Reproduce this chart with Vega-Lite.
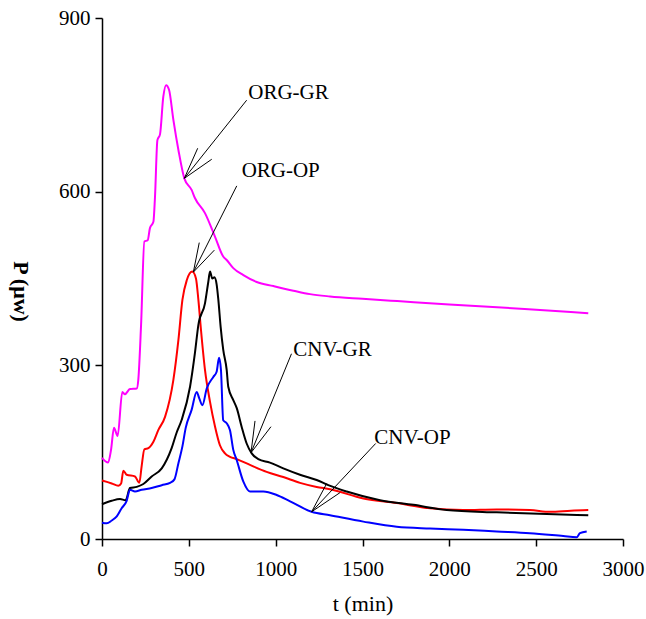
{
  "$schema": "https://vega.github.io/schema/vega-lite/v6.json",
  "autosize": {"type": "none"},
  "width": 521,
  "height": 521,
  "padding": {"left": 102, "top": 18, "right": 23, "bottom": 80},
  "background": "white",
  "config": {
    "view": {"stroke": null},
    "font": "Liberation Serif",
    "text": {"font": "Liberation Serif"},
    "axis": {
      "grid": false,
      "labelFlush": false,
      "labelOverlap": false,
      "domainColor": "black",
      "domainWidth": 1.5,
      "tickColor": "black",
      "tickWidth": 1.5,
      "tickSize": 7,
      "labelFont": "Liberation Serif",
      "labelFontSize": 21,
      "labelColor": "black",
      "titleFont": "Liberation Serif",
      "titleColor": "black",
      "titleFontWeight": "normal"
    }
  },
  "datasets": {
    "curves": [
      {"s": "ORG-GR", "t": 0, "P": 140}, {"s": "ORG-GR", "t": 35, "P": 132}, {"s": "ORG-GR", "t": 52, "P": 154}, {"s": "ORG-GR", "t": 69, "P": 192}, {"s": "ORG-GR", "t": 90, "P": 178}, {"s": "ORG-GR", "t": 117, "P": 254}, {"s": "ORG-GR", "t": 132, "P": 250}, {"s": "ORG-GR", "t": 161, "P": 259}, {"s": "ORG-GR", "t": 200, "P": 260}, {"s": "ORG-GR", "t": 209, "P": 275}, {"s": "ORG-GR", "t": 225, "P": 370}, {"s": "ORG-GR", "t": 244, "P": 514}, {"s": "ORG-GR", "t": 263, "P": 516}, {"s": "ORG-GR", "t": 276, "P": 537}, {"s": "ORG-GR", "t": 296, "P": 548}, {"s": "ORG-GR", "t": 305, "P": 590}, {"s": "ORG-GR", "t": 319, "P": 689}, {"s": "ORG-GR", "t": 334, "P": 699}, {"s": "ORG-GR", "t": 353, "P": 764}, {"s": "ORG-GR", "t": 369, "P": 784}, {"s": "ORG-GR", "t": 386, "P": 776}, {"s": "ORG-GR", "t": 411, "P": 724}, {"s": "ORG-GR", "t": 440, "P": 672}, {"s": "ORG-GR", "t": 474, "P": 623}, {"s": "ORG-GR", "t": 516, "P": 603}, {"s": "ORG-GR", "t": 535, "P": 589}, {"s": "ORG-GR", "t": 593, "P": 563}, {"s": "ORG-GR", "t": 651, "P": 522}, {"s": "ORG-GR", "t": 698, "P": 488}, {"s": "ORG-GR", "t": 718, "P": 482}, {"s": "ORG-GR", "t": 756, "P": 468}, {"s": "ORG-GR", "t": 814, "P": 456}, {"s": "ORG-GR", "t": 891, "P": 444}, {"s": "ORG-GR", "t": 987, "P": 437}, {"s": "ORG-GR", "t": 1102, "P": 429}, {"s": "ORG-GR", "t": 1198, "P": 423}, {"s": "ORG-GR", "t": 1313, "P": 419}, {"s": "ORG-GR", "t": 1500, "P": 415}, {"s": "ORG-GR", "t": 1700, "P": 411}, {"s": "ORG-GR", "t": 2000, "P": 405}, {"s": "ORG-GR", "t": 2300, "P": 400}, {"s": "ORG-GR", "t": 2500, "P": 396}, {"s": "ORG-GR", "t": 2700, "P": 392}, {"s": "ORG-GR", "t": 2800, "P": 390},
      {"s": "ORG-OP", "t": 0, "P": 101}, {"s": "ORG-OP", "t": 56, "P": 96}, {"s": "ORG-OP", "t": 94, "P": 92}, {"s": "ORG-OP", "t": 110, "P": 96}, {"s": "ORG-OP", "t": 123, "P": 118}, {"s": "ORG-OP", "t": 142, "P": 111}, {"s": "ORG-OP", "t": 190, "P": 108}, {"s": "ORG-OP", "t": 215, "P": 97}, {"s": "ORG-OP", "t": 228, "P": 125}, {"s": "ORG-OP", "t": 244, "P": 155}, {"s": "ORG-OP", "t": 267, "P": 157}, {"s": "ORG-OP", "t": 296, "P": 168}, {"s": "ORG-OP", "t": 324, "P": 188}, {"s": "ORG-OP", "t": 363, "P": 211}, {"s": "ORG-OP", "t": 411, "P": 275}, {"s": "ORG-OP", "t": 440, "P": 344}, {"s": "ORG-OP", "t": 463, "P": 413}, {"s": "ORG-OP", "t": 488, "P": 447}, {"s": "ORG-OP", "t": 520, "P": 462}, {"s": "ORG-OP", "t": 541, "P": 450}, {"s": "ORG-OP", "t": 555, "P": 413}, {"s": "ORG-OP", "t": 570, "P": 361}, {"s": "ORG-OP", "t": 593, "P": 292}, {"s": "ORG-OP", "t": 622, "P": 237}, {"s": "ORG-OP", "t": 651, "P": 194}, {"s": "ORG-OP", "t": 679, "P": 162}, {"s": "ORG-OP", "t": 708, "P": 148}, {"s": "ORG-OP", "t": 737, "P": 142}, {"s": "ORG-OP", "t": 776, "P": 138}, {"s": "ORG-OP", "t": 852, "P": 128}, {"s": "ORG-OP", "t": 948, "P": 116}, {"s": "ORG-OP", "t": 1044, "P": 107}, {"s": "ORG-OP", "t": 1140, "P": 97}, {"s": "ORG-OP", "t": 1236, "P": 90}, {"s": "ORG-OP", "t": 1313, "P": 86}, {"s": "ORG-OP", "t": 1505, "P": 70}, {"s": "ORG-OP", "t": 1697, "P": 62}, {"s": "ORG-OP", "t": 1889, "P": 53}, {"s": "ORG-OP", "t": 2081, "P": 50}, {"s": "ORG-OP", "t": 2273, "P": 51}, {"s": "ORG-OP", "t": 2464, "P": 50}, {"s": "ORG-OP", "t": 2580, "P": 47}, {"s": "ORG-OP", "t": 2700, "P": 49}, {"s": "ORG-OP", "t": 2800, "P": 50},
      {"s": "CNV-GR", "t": 0, "P": 60}, {"s": "CNV-GR", "t": 56, "P": 66}, {"s": "CNV-GR", "t": 104, "P": 69}, {"s": "CNV-GR", "t": 136, "P": 67}, {"s": "CNV-GR", "t": 161, "P": 88}, {"s": "CNV-GR", "t": 200, "P": 90}, {"s": "CNV-GR", "t": 238, "P": 95}, {"s": "CNV-GR", "t": 286, "P": 108}, {"s": "CNV-GR", "t": 344, "P": 122}, {"s": "CNV-GR", "t": 401, "P": 157}, {"s": "CNV-GR", "t": 430, "P": 184}, {"s": "CNV-GR", "t": 459, "P": 206}, {"s": "CNV-GR", "t": 507, "P": 263}, {"s": "CNV-GR", "t": 535, "P": 321}, {"s": "CNV-GR", "t": 555, "P": 370}, {"s": "CNV-GR", "t": 593, "P": 407}, {"s": "CNV-GR", "t": 612, "P": 444}, {"s": "CNV-GR", "t": 622, "P": 462}, {"s": "CNV-GR", "t": 635, "P": 450}, {"s": "CNV-GR", "t": 647, "P": 452}, {"s": "CNV-GR", "t": 660, "P": 440}, {"s": "CNV-GR", "t": 670, "P": 413}, {"s": "CNV-GR", "t": 683, "P": 367}, {"s": "CNV-GR", "t": 698, "P": 327}, {"s": "CNV-GR", "t": 718, "P": 292}, {"s": "CNV-GR", "t": 727, "P": 263}, {"s": "CNV-GR", "t": 756, "P": 240}, {"s": "CNV-GR", "t": 776, "P": 226}, {"s": "CNV-GR", "t": 804, "P": 194}, {"s": "CNV-GR", "t": 833, "P": 165}, {"s": "CNV-GR", "t": 862, "P": 148}, {"s": "CNV-GR", "t": 900, "P": 138}, {"s": "CNV-GR", "t": 967, "P": 132}, {"s": "CNV-GR", "t": 1044, "P": 122}, {"s": "CNV-GR", "t": 1140, "P": 111}, {"s": "CNV-GR", "t": 1236, "P": 102}, {"s": "CNV-GR", "t": 1303, "P": 93}, {"s": "CNV-GR", "t": 1409, "P": 82}, {"s": "CNV-GR", "t": 1601, "P": 67}, {"s": "CNV-GR", "t": 1793, "P": 59}, {"s": "CNV-GR", "t": 1985, "P": 50}, {"s": "CNV-GR", "t": 2273, "P": 46}, {"s": "CNV-GR", "t": 2561, "P": 43}, {"s": "CNV-GR", "t": 2800, "P": 41},
      {"s": "CNV-OP", "t": 0, "P": 28}, {"s": "CNV-OP", "t": 27, "P": 27}, {"s": "CNV-OP", "t": 56, "P": 32}, {"s": "CNV-OP", "t": 85, "P": 39}, {"s": "CNV-OP", "t": 113, "P": 53}, {"s": "CNV-OP", "t": 142, "P": 66}, {"s": "CNV-OP", "t": 161, "P": 85}, {"s": "CNV-OP", "t": 190, "P": 82}, {"s": "CNV-OP", "t": 228, "P": 85}, {"s": "CNV-OP", "t": 286, "P": 88}, {"s": "CNV-OP", "t": 344, "P": 93}, {"s": "CNV-OP", "t": 392, "P": 97}, {"s": "CNV-OP", "t": 417, "P": 103}, {"s": "CNV-OP", "t": 440, "P": 131}, {"s": "CNV-OP", "t": 463, "P": 160}, {"s": "CNV-OP", "t": 482, "P": 192}, {"s": "CNV-OP", "t": 516, "P": 223}, {"s": "CNV-OP", "t": 545, "P": 254}, {"s": "CNV-OP", "t": 560, "P": 243}, {"s": "CNV-OP", "t": 578, "P": 231}, {"s": "CNV-OP", "t": 603, "P": 260}, {"s": "CNV-OP", "t": 641, "P": 280}, {"s": "CNV-OP", "t": 660, "P": 289}, {"s": "CNV-OP", "t": 674, "P": 313}, {"s": "CNV-OP", "t": 685, "P": 292}, {"s": "CNV-OP", "t": 698, "P": 205}, {"s": "CNV-OP", "t": 718, "P": 200}, {"s": "CNV-OP", "t": 737, "P": 188}, {"s": "CNV-OP", "t": 756, "P": 154}, {"s": "CNV-OP", "t": 776, "P": 136}, {"s": "CNV-OP", "t": 814, "P": 99}, {"s": "CNV-OP", "t": 852, "P": 82}, {"s": "CNV-OP", "t": 929, "P": 82}, {"s": "CNV-OP", "t": 1006, "P": 76}, {"s": "CNV-OP", "t": 1083, "P": 65}, {"s": "CNV-OP", "t": 1207, "P": 47}, {"s": "CNV-OP", "t": 1313, "P": 41}, {"s": "CNV-OP", "t": 1505, "P": 30}, {"s": "CNV-OP", "t": 1697, "P": 21}, {"s": "CNV-OP", "t": 1889, "P": 18}, {"s": "CNV-OP", "t": 2081, "P": 16}, {"s": "CNV-OP", "t": 2273, "P": 13}, {"s": "CNV-OP", "t": 2464, "P": 10}, {"s": "CNV-OP", "t": 2656, "P": 5}, {"s": "CNV-OP", "t": 2733, "P": 3}, {"s": "CNV-OP", "t": 2752, "P": 10}, {"s": "CNV-OP", "t": 2791, "P": 13}
    ],
    "arrows": [
      {"x": 833, "y": 758, "x2": 474, "y2": 623},
      {"x": 551, "y": 675, "x2": 474, "y2": 623},
      {"x": 632, "y": 656, "x2": 474, "y2": 623},
      {"x": 776, "y": 610, "x2": 526, "y2": 461},
      {"x": 560, "y": 512, "x2": 526, "y2": 461},
      {"x": 647, "y": 499, "x2": 526, "y2": 461},
      {"x": 1091, "y": 320, "x2": 858, "y2": 149},
      {"x": 881, "y": 204, "x2": 858, "y2": 149},
      {"x": 973, "y": 194, "x2": 858, "y2": 149},
      {"x": 1576, "y": 165, "x2": 1207, "y2": 47},
      {"x": 1294, "y": 96, "x2": 1207, "y2": 47},
      {"x": 1370, "y": 80, "x2": 1207, "y2": 47}
    ],
    "labels": [
      {"x": 842, "y": 770, "label": "ORG-GR"},
      {"x": 804, "y": 636, "label": "ORG-OP"},
      {"x": 1101, "y": 326, "label": "CNV-GR"},
      {"x": 1568, "y": 174, "label": "CNV-OP"}
    ]
  },
  "layer": [
    {
      "data": {"name": "curves"},
      "mark": {"type": "line", "strokeWidth": 2, "interpolate": "monotone"},
      "encoding": {
        "x": {
          "field": "t", "type": "quantitative",
          "scale": {"domain": [0, 3000], "nice": false},
          "axis": {"values": [0, 500, 1000, 1500, 2000, 2500, 3000], "format": "d", "labelFlush": false, "labelFont": "Liberation Serif", "labelFontSize": 21, "title": "t (min)", "titleFont": "Liberation Serif", "titleFontSize": 22, "titlePadding": 14, "labelPadding": 12}
        },
        "y": {
          "field": "P", "type": "quantitative",
          "scale": {"domain": [0, 900], "nice": false},
          "axis": {"values": [0, 300, 600, 900], "format": "d", "labelFlush": false, "labelFont": "Liberation Serif", "labelFontSize": 21, "title": "P (μw)", "titleFont": "Liberation Serif", "titleFontSize": 22, "titleFontWeight": "bold", "titleAngle": 90, "titleX": -82, "titleY": 273, "titleAlign": "center", "titleBaseline": "middle", "labelPadding": 5}
        },
        "color": {
          "field": "s", "type": "nominal",
          "scale": {"domain": ["ORG-GR", "ORG-OP", "CNV-GR", "CNV-OP"], "range": ["#FF00FF", "#FF0000", "#000000", "#0000FF"]},
          "legend": null
        }
      }
    },
    {
      "data": {"name": "arrows"},
      "mark": {"type": "rule", "color": "black", "strokeWidth": 1},
      "encoding": {
        "x": {"field": "x", "type": "quantitative"},
        "y": {"field": "y", "type": "quantitative"},
        "x2": {"field": "x2"},
        "y2": {"field": "y2"}
      }
    },
    {
      "data": {"name": "labels"},
      "mark": {"type": "text", "align": "left", "baseline": "middle", "fontSize": 21, "font": "Liberation Serif", "color": "black"},
      "encoding": {
        "x": {"field": "x", "type": "quantitative"},
        "y": {"field": "y", "type": "quantitative"},
        "text": {"field": "label"}
      }
    }
  ]
}
